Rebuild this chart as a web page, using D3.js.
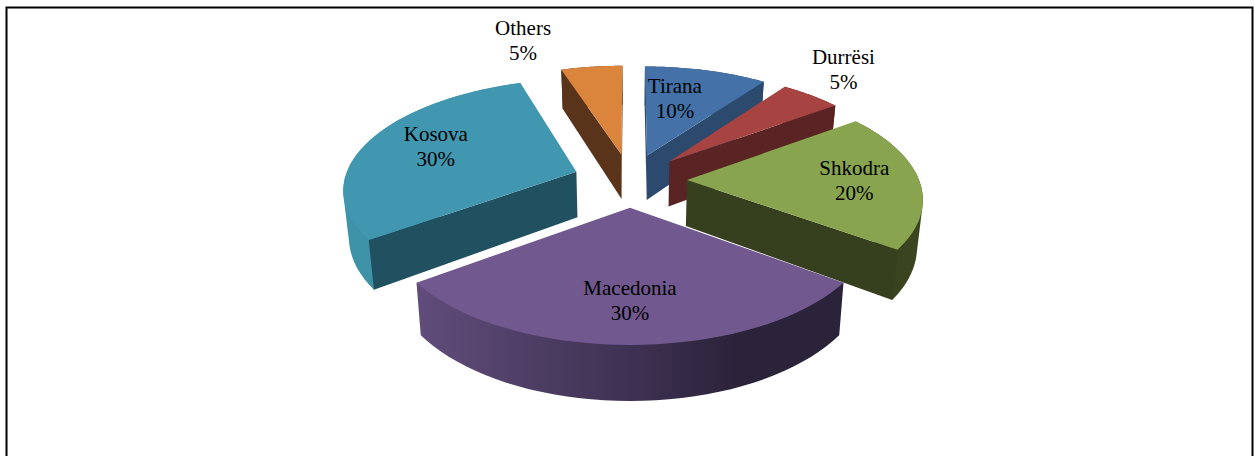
<!DOCTYPE html>
<html>
<head>
<meta charset="utf-8">
<script src="https://cdn.jsdelivr.net/npm/d3@7"></script>
<style>
html, body { margin: 0; padding: 0; background: #fff; overflow: hidden; }
svg { display: block; }
</style>
</head>
<body>
<div id="chart"></div>
<script>
// chart values, clockwise from 12 o'clock
var categories = ['Tirana', 'Durrësi', 'Shkodra', 'Macedonia', 'Kosova', 'Others'];
var shares = [10, 5, 20, 30, 30, 5];

var topColors = ['#4472a8', '#a74442', '#88a44e', '#71588f', '#4197af', '#da843c'];
var sideColors = ['#2c4a6e', '#5b2424', '#363f1e', '#4a3a60', '#215160', '#59331a'];
var rimColors = [
    ['#2c4a6e', '#2c4a6e'],
    ['#5b2424', '#5b2424'],
    ['#363f1e', '#3b4620'],
    ['#614c7b', '#4f3f66', '#3f3153', '#2b233a', '#2b233a'],
    ['#3f93a9', '#3a8ba1'],
    ['#59331a', '#59331a']
];

// label placement around the pie: radius as a share of R, and turn from slice middle
var labelRadius = [0.86, 1.61, 0.965, 0.957, 0.93, 1.67];
var labelTurn = [-3.4, -2.9, 0.8, 0, 1.8, -10.8];

var width = 1254, height = 456;
var x0 = 630, y0 = 180;
var R = 232, explode = 57, wall = 46;
var viewDist = 1600, horizonDrop = 748;

var svg = d3.select('#chart').append('svg')
    .attr('width', width)
    .attr('height', height);

// ground plane (X right, Z towards viewer) to screen
function project(X, Z, lift) {
    var s = viewDist / (viewDist - Z);
    var x = x0 + X * s;
    var y = y0 + horizonDrop * (s - 1);
    if (lift) {
        x = x0 + (x - x0) * 0.98;
        y = y + wall * s;
    }
    return [x, y];
}

var pie = d3.pie().sort(null).value(function(d) { return d.share; });
var data = categories.map(function(c, i) {
    return { name: c, share: shares[i], index: i };
});
var arcs = pie(data);

var line = d3.line();
var defs = svg.append('defs');

arcs.forEach(function(a) {
    var mid = (a.startAngle + a.endAngle) / 2;
    a.mid = mid;
    a.ox = explode * Math.sin(mid);
    a.oz = -explode * Math.cos(mid);
});

function rimPoints(a, lift) {
    var n = 40;
    return d3.range(n + 1).map(function(k) {
        var t = a.startAngle + (a.endAngle - a.startAngle) * k / n;
        return project(a.ox + R * Math.sin(t), a.oz - R * Math.cos(t), lift);
    });
}

// a cut face shows only if the slice top lies on the far side of its top edge
function faceVisible(apex, p, other) {
    var ex = p[0] - apex[0], ey = p[1] - apex[1];
    var toDown = ex;
    var toOther = ex * (other[1] - apex[1]) - ey * (other[0] - apex[0]);
    return toDown * toOther < 0;
}

// back slices first so the nearer ones cover them
var order = arcs.slice().sort(function(p, q) { return p.oz - q.oz; });

order.forEach(function(a) {
    var i = a.data.index;
    var g = svg.append('g').attr('class', 'slice');
    var top = rimPoints(a, false);
    var bottom = rimPoints(a, true);
    var last = top.length - 1;
    var apex = project(a.ox, a.oz, false);
    var apexLow = project(a.ox, a.oz, true);

    // outer rim wall, hull of both rims so the silhouette has no notch
    var xs = d3.extent(top, function(p) { return p[0]; });
    var grad = defs.append('linearGradient')
        .attr('id', 'rim' + i)
        .attr('gradientUnits', 'userSpaceOnUse')
        .attr('x1', xs[0]).attr('x2', xs[1])
        .attr('y1', 0).attr('y2', 0);
    rimColors[i].forEach(function(c, k, all) {
        grad.append('stop')
            .attr('offset', k / (all.length - 1))
            .attr('stop-color', c);
    });
    g.append('path')
        .attr('d', line(d3.polygonHull(top.concat(bottom))) + 'Z')
        .attr('fill', 'url(#rim' + i + ')');

    // the two cut faces
    [0, last].forEach(function(k) {
        if (!faceVisible(apex, top[k], top[last - k])) return;
        g.append('path')
            .attr('d', line([apex, top[k], bottom[k], apexLow]) + 'Z')
            .attr('fill', sideColors[i]);
    });

    // top face
    g.append('path')
        .attr('d', line([apex].concat(top)) + 'Z')
        .attr('fill', topColors[i]);
});

// labels
arcs.forEach(function(a) {
    var i = a.data.index;
    var t = a.mid + labelTurn[i] * Math.PI / 180;
    var r = R * labelRadius[i];
    var p = project(r * Math.sin(t), -r * Math.cos(t), false);
    var label = svg.append('text')
        .attr('text-anchor', 'middle')
        .attr('font-family', '"Liberation Serif", serif')
        .attr('font-size', 21)
        .attr('fill', '#000');
    label.append('tspan').attr('x', p[0]).attr('y', p[1] - 6).text(a.data.name);
    label.append('tspan').attr('x', p[0]).attr('y', p[1] + 19).text(a.data.share + '%');
});

// page frame, runs off the bottom of the picture
svg.append('path')
    .attr('d', line([[6.5, height], [6.5, 7.5], [1252.5, 7.5], [1252.5, height]]))
    .attr('fill', 'none')
    .attr('stroke', '#000')
    .attr('stroke-width', 2);
</script>
</body>
</html>
